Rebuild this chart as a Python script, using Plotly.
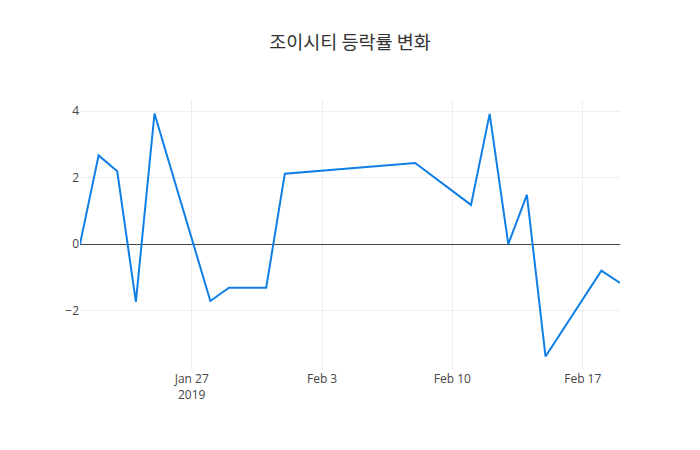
import plotly.graph_objects as go

dates = ["2019-01-21", "2019-01-22", "2019-01-23", "2019-01-24", "2019-01-25",
         "2019-01-28", "2019-01-29", "2019-01-31", "2019-02-01", "2019-02-08",
         "2019-02-11", "2019-02-12", "2019-02-13", "2019-02-14", "2019-02-15",
         "2019-02-18", "2019-02-19"]
rates = [0.0, 2.67, 2.19, -1.74, 3.93,
         -1.71, -1.31, -1.31, 2.12, 2.44,
         1.18, 3.92, 0.0, 1.48, -3.38,
         -0.80, -1.17]

title_text = "조이시티 등락률 변화"

fig = go.Figure()
fig.add_trace(go.Scatter(x=dates, y=rates, mode="lines",
                         line=dict(color="#0f7fe6", width=2)))

fig.update_layout(
    template="none",
    width=700, height=450,
    title=dict(text=title_text, x=0.5, xanchor="center", y=0.92,
               font=dict(size=18.5, color="#333", family="Noto Sans CJK KR, Open Sans")),
    font=dict(family="Open Sans, Noto Sans CJK KR", color="#444", size=12),
    plot_bgcolor="white", paper_bgcolor="white",
    margin=dict(l=80, r=80, t=100, b=80),
    showlegend=False,
    xaxis=dict(showgrid=True, gridcolor="#eee", zeroline=False, showline=False,
               ticks="", type="date"),
    yaxis=dict(showgrid=True, gridcolor="#eee", zeroline=True, zerolinecolor="#444",
               zerolinewidth=1, showline=False, ticks="", dtick=2),
)

fig.write_html("out.html")
